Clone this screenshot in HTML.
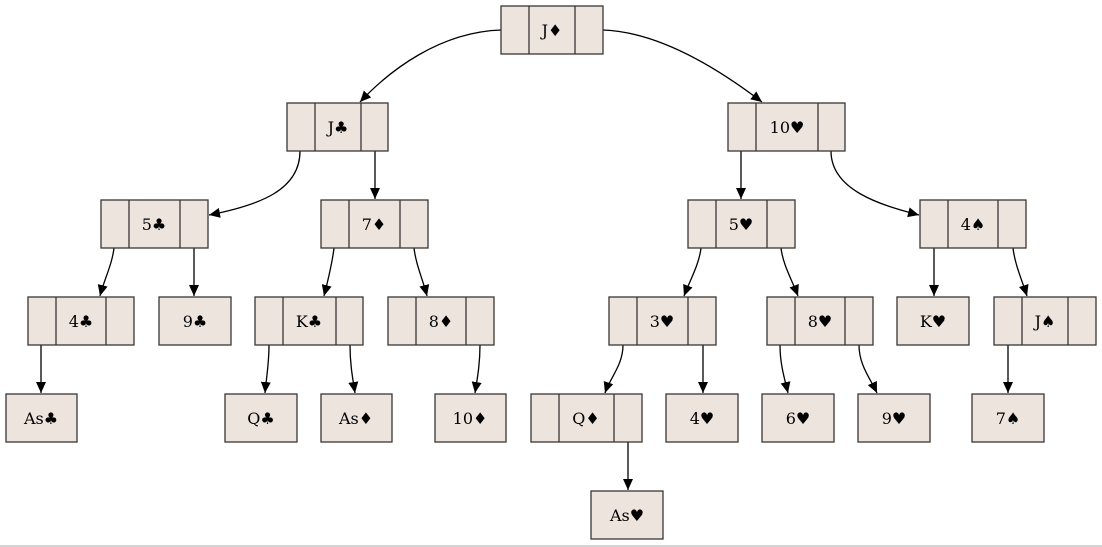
<!DOCTYPE html>
<html><head><meta charset="utf-8"><style>
html,body{margin:0;padding:0;background:#fff;width:1102px;height:547px;overflow:hidden}
svg{display:block}
text{font-family:"DejaVu Serif","Liberation Serif",serif;font-size:16px;fill:#000}
.n{fill:#ede4de;stroke:#3a3634;stroke-width:1.3}
.e{fill:none;stroke:#000;stroke-width:1.3}
</style></head><body>
<svg width="1102" height="547" viewBox="0 0 1102 547">
<defs><marker id="a" markerUnits="userSpaceOnUse" markerWidth="12" markerHeight="10" refX="11" refY="5" orient="auto"><path d="M0,0 L11,5 L0,10 z" fill="#000"/></marker></defs>
<g class="e" marker-end="url(#a)">
<path d="M501,30 C440,32 390,70 360,102"/>
<path d="M603,30 C660,32 720,70 762,102"/>
<path d="M300,151 C300,190 260,205 209,215"/>
<path d="M375,151 L375,199"/>
<path d="M741,151 L741,199"/>
<path d="M831,151 C831,190 880,205 919,215"/>
<path d="M114,248 C112,265 104,280 100,296"/>
<path d="M194,248 L194,296"/>
<path d="M334,248 C332,265 328,280 324,296"/>
<path d="M414,248 C416,265 423,280 427,296"/>
<path d="M701,248 C699,265 690,280 684,296"/>
<path d="M781,248 C783,265 792,280 798,296"/>
<path d="M934,248 L934,296"/>
<path d="M1013,248 C1015,265 1022,280 1027,296"/>
<path d="M41,345 L41,393"/>
<path d="M269,345 C269,365 266,380 265,393"/>
<path d="M350,345 C350,365 353,380 355,393"/>
<path d="M480,345 C480,365 477,380 475,393"/>
<path d="M623,345 C623,365 610,378 605,393"/>
<path d="M703,345 L703,393"/>
<path d="M780,345 C780,365 785,380 788,393"/>
<path d="M859,345 C859,365 870,378 877,393"/>
<path d="M1008,345 L1008,393"/>
<path d="M628,442 L628,490"/>
</g>
<g>
<rect class="n" x="501" y="6" width="102" height="48"/><line class="n" x1="529" y1="6" x2="529" y2="54"/><line class="n" x1="575" y1="6" x2="575" y2="54"/><text x="552" y="36" text-anchor="middle">J♦</text>
<rect class="n" x="287" y="103" width="101" height="48"/><line class="n" x1="315" y1="103" x2="315" y2="151"/><line class="n" x1="361" y1="103" x2="361" y2="151"/><text x="338" y="133" text-anchor="middle">J♣</text>
<rect class="n" x="728" y="103" width="117" height="48"/><line class="n" x1="756" y1="103" x2="756" y2="151"/><line class="n" x1="818" y1="103" x2="818" y2="151"/><text x="787" y="133" text-anchor="middle">10♥</text>
<rect class="n" x="101" y="200" width="107" height="48"/><line class="n" x1="129" y1="200" x2="129" y2="248"/><line class="n" x1="180" y1="200" x2="180" y2="248"/><text x="154" y="230" text-anchor="middle">5♣</text>
<rect class="n" x="321" y="200" width="107" height="48"/><line class="n" x1="349" y1="200" x2="349" y2="248"/><line class="n" x1="400" y1="200" x2="400" y2="248"/><text x="374" y="230" text-anchor="middle">7♦</text>
<rect class="n" x="688" y="200" width="107" height="48"/><line class="n" x1="716" y1="200" x2="716" y2="248"/><line class="n" x1="767" y1="200" x2="767" y2="248"/><text x="741" y="230" text-anchor="middle">5♥</text>
<rect class="n" x="920" y="200" width="106" height="48"/><line class="n" x1="948" y1="200" x2="948" y2="248"/><line class="n" x1="998" y1="200" x2="998" y2="248"/><text x="973" y="230" text-anchor="middle">4♠</text>
<rect class="n" x="28" y="297" width="106" height="48"/><line class="n" x1="56" y1="297" x2="56" y2="345"/><line class="n" x1="106" y1="297" x2="106" y2="345"/><text x="81" y="327" text-anchor="middle">4♣</text>
<rect class="n" x="255" y="297" width="108" height="48"/><line class="n" x1="283" y1="297" x2="283" y2="345"/><line class="n" x1="336" y1="297" x2="336" y2="345"/><text x="309" y="327" text-anchor="middle">K♣</text>
<rect class="n" x="388" y="297" width="106" height="48"/><line class="n" x1="416" y1="297" x2="416" y2="345"/><line class="n" x1="466" y1="297" x2="466" y2="345"/><text x="441" y="327" text-anchor="middle">8♦</text>
<rect class="n" x="609" y="297" width="107" height="48"/><line class="n" x1="637" y1="297" x2="637" y2="345"/><line class="n" x1="688" y1="297" x2="688" y2="345"/><text x="662" y="327" text-anchor="middle">3♥</text>
<rect class="n" x="767" y="297" width="106" height="48"/><line class="n" x1="795" y1="297" x2="795" y2="345"/><line class="n" x1="845" y1="297" x2="845" y2="345"/><text x="820" y="327" text-anchor="middle">8♥</text>
<rect class="n" x="994" y="297" width="102" height="48"/><line class="n" x1="1022" y1="297" x2="1022" y2="345"/><line class="n" x1="1068" y1="297" x2="1068" y2="345"/><text x="1045" y="327" text-anchor="middle">J♠</text>
<rect class="n" x="531" y="394" width="111" height="48"/><line class="n" x1="559" y1="394" x2="559" y2="442"/><line class="n" x1="614" y1="394" x2="614" y2="442"/><text x="586" y="424" text-anchor="middle">Q♦</text>
<rect class="n" x="159" y="297" width="72" height="48"/><text x="195" y="327" text-anchor="middle">9♣</text>
<rect class="n" x="897" y="297" width="72" height="48"/><text x="933" y="327" text-anchor="middle">K♥</text>
<rect class="n" x="6" y="394" width="71" height="48"/><text x="41" y="424" text-anchor="middle">As♣</text>
<rect class="n" x="225" y="394" width="72" height="48"/><text x="261" y="424" text-anchor="middle">Q♣</text>
<rect class="n" x="321" y="394" width="71" height="48"/><text x="356" y="424" text-anchor="middle">As♦</text>
<rect class="n" x="435" y="394" width="71" height="48"/><text x="470" y="424" text-anchor="middle">10♦</text>
<rect class="n" x="666" y="394" width="72" height="48"/><text x="702" y="424" text-anchor="middle">4♥</text>
<rect class="n" x="762" y="394" width="72" height="48"/><text x="798" y="424" text-anchor="middle">6♥</text>
<rect class="n" x="858" y="394" width="72" height="48"/><text x="894" y="424" text-anchor="middle">9♥</text>
<rect class="n" x="972" y="394" width="72" height="48"/><text x="1008" y="424" text-anchor="middle">7♠</text>
<rect class="n" x="591" y="491" width="72" height="48"/><text x="627" y="521" text-anchor="middle">As♥</text>
</g>
<line x1="0" y1="546" x2="1102" y2="546" stroke="#aaa" stroke-width="1"/>
</svg>
</body></html>
